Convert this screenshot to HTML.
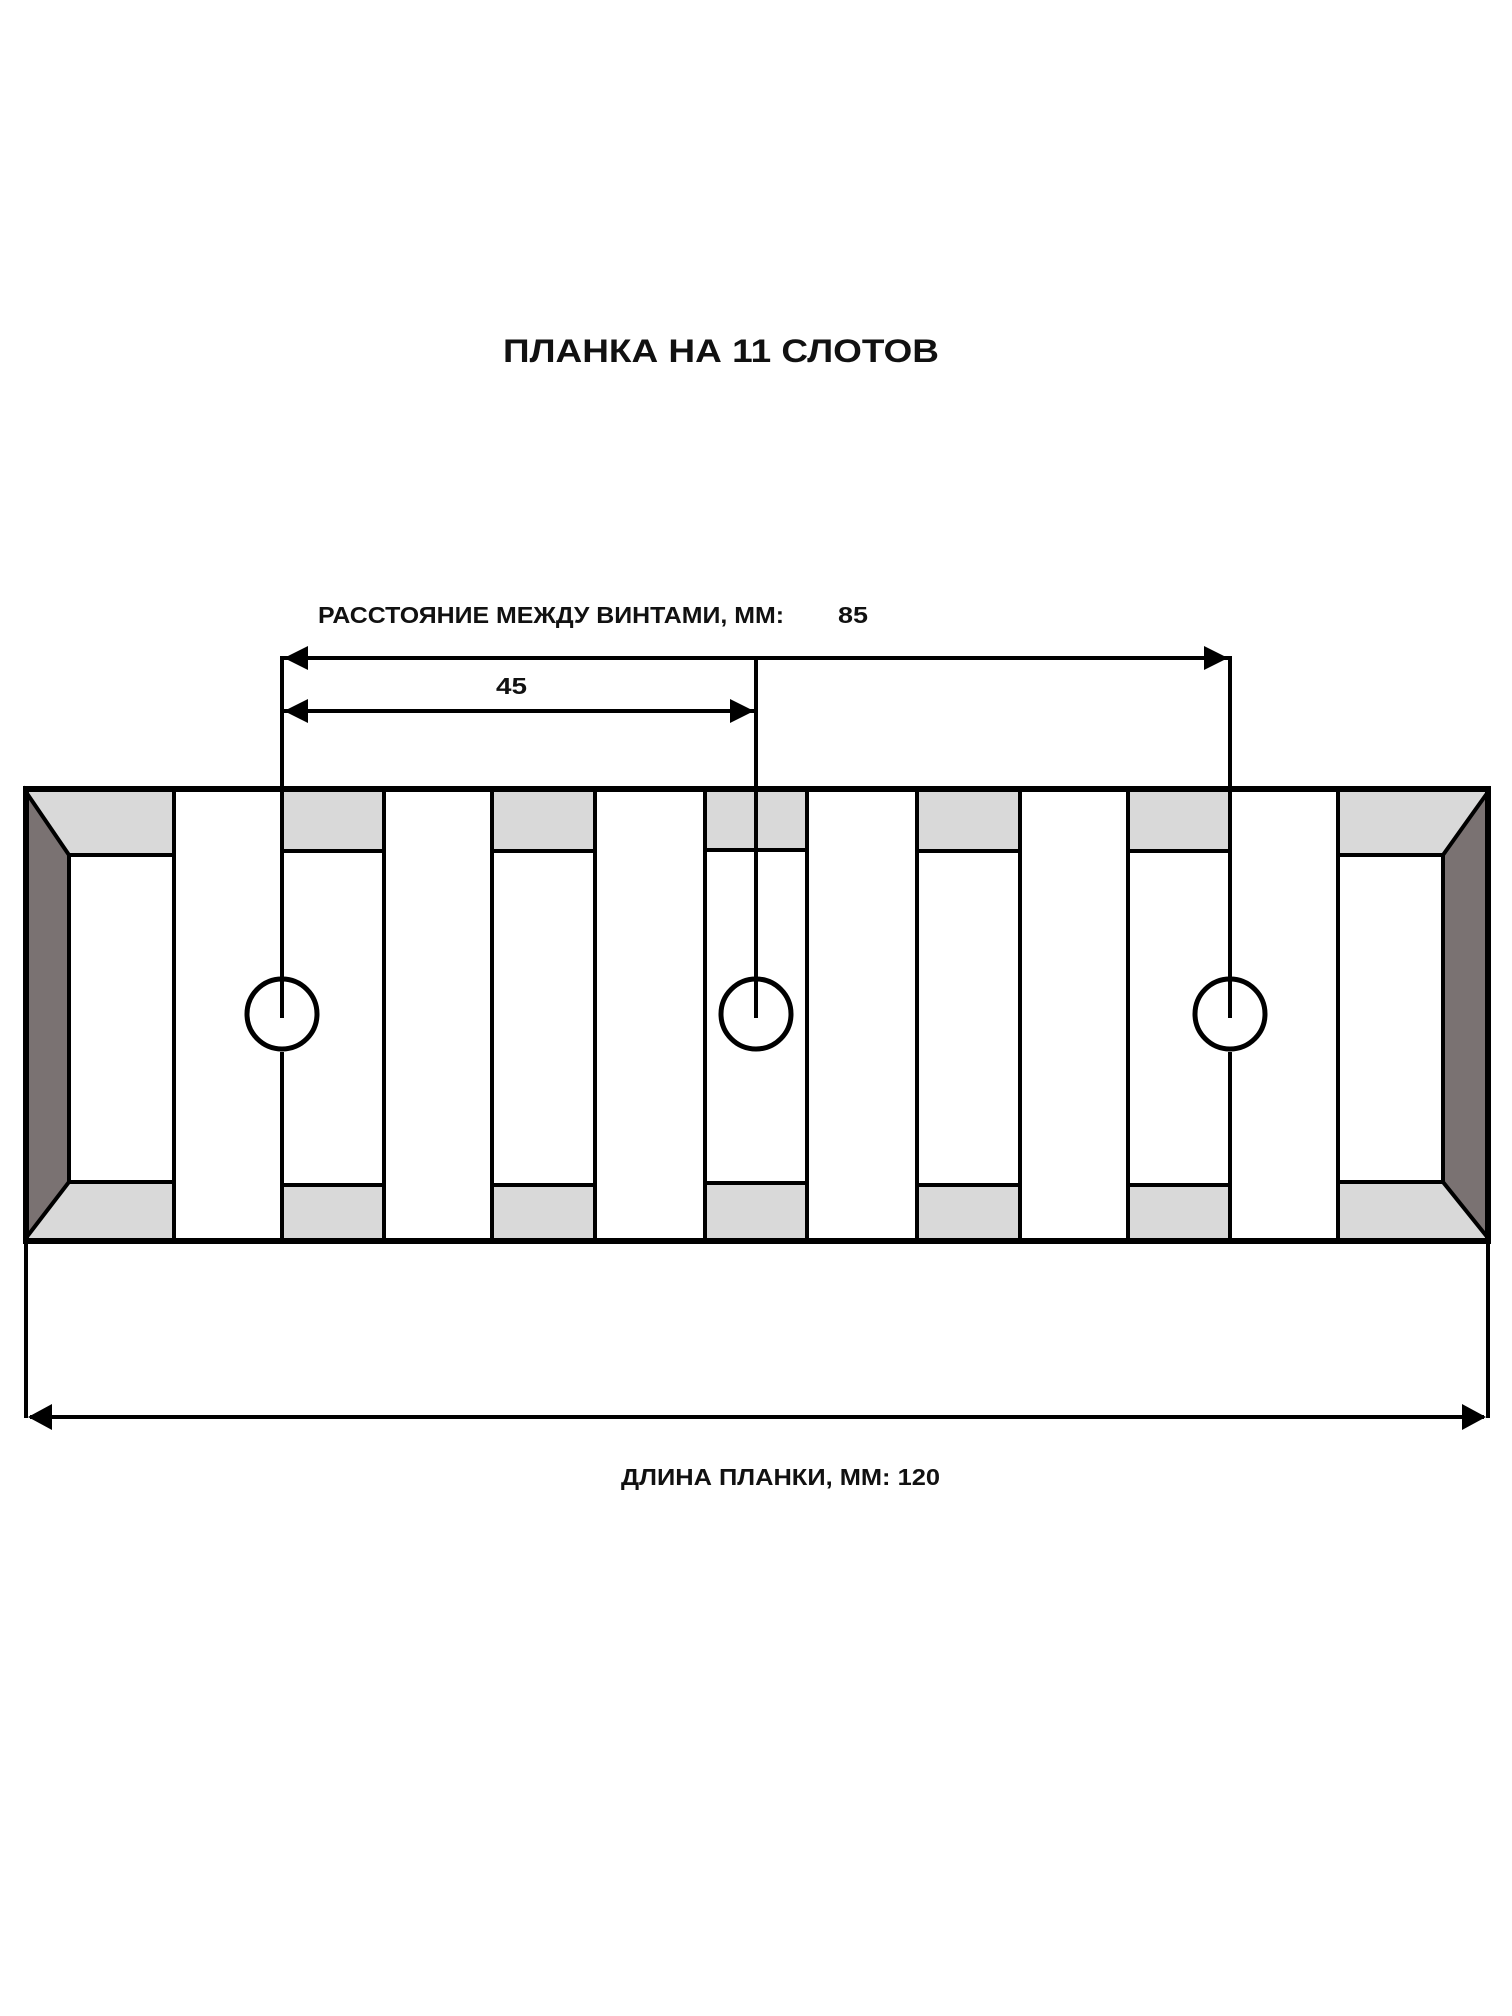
<!DOCTYPE html>
<html><head><meta charset="utf-8"><style>
html,body{margin:0;padding:0;background:#fff;}
svg{display:block;}
text{font-family:"Liberation Sans",sans-serif;font-weight:bold;fill:#111;}
</style></head><body>
<svg width="1512" height="2016" viewBox="0 0 1512 2016" xmlns="http://www.w3.org/2000/svg">
<text x="503" y="362" font-size="32" textLength="436" lengthAdjust="spacingAndGlyphs">ПЛАНКА НА 11 СЛОТОВ</text>
<text x="318" y="623" font-size="23" textLength="466" lengthAdjust="spacingAndGlyphs">РАССТОЯНИЕ МЕЖДУ ВИНТАМИ, ММ:</text>
<text x="838" y="623" font-size="23" textLength="30" lengthAdjust="spacingAndGlyphs">85</text>
<text x="496" y="694" font-size="23" textLength="31" lengthAdjust="spacingAndGlyphs">45</text>
<text x="621" y="1485" font-size="23" textLength="319" lengthAdjust="spacingAndGlyphs">ДЛИНА ПЛАНКИ, ММ: 120</text>

<!-- gray fills -->
<g fill="#d9d9d9">
<polygon points="26,792 174,792 174,855 69,855"/>
<polygon points="26,1238 174,1238 174,1182 69,1182"/>
<polygon points="1488,792 1338,792 1338,855 1443,855"/>
<polygon points="1488,1238 1338,1238 1338,1182 1443,1182"/>
<rect x="282" y="792" width="102" height="58"/><rect x="282" y="1185" width="102" height="53"/>
<rect x="492" y="792" width="103" height="58"/><rect x="492" y="1185" width="103" height="53"/>
<rect x="705" y="792" width="102" height="58"/><rect x="705" y="1183" width="102" height="55"/>
<rect x="917" y="792" width="103" height="58"/><rect x="917" y="1185" width="103" height="53"/>
<rect x="1128" y="792" width="102" height="58"/><rect x="1128" y="1185" width="102" height="53"/>
</g>
<g fill="#7a7272" stroke="#000" stroke-width="4">
<polygon points="26,792 69,855 69,1182 26,1238"/>
<polygon points="1488,792 1443,855 1443,1182 1488,1238"/>
</g>
<g stroke="#000" stroke-width="4" fill="none">
<line x1="69" y1="855" x2="174" y2="855"/><line x1="69" y1="1182" x2="174" y2="1182"/>
<line x1="1338" y1="855" x2="1443" y2="855"/><line x1="1338" y1="1182" x2="1443" y2="1182"/>
<line x1="174" y1="789" x2="174" y2="1241"/>
<line x1="282" y1="789" x2="282" y2="978"/><line x1="282" y1="1052" x2="282" y2="1241"/>
<line x1="384" y1="789" x2="384" y2="1241"/>
<line x1="492" y1="789" x2="492" y2="1241"/>
<line x1="595" y1="789" x2="595" y2="1241"/>
<line x1="705" y1="789" x2="705" y2="1241"/>
<line x1="807" y1="789" x2="807" y2="1241"/>
<line x1="917" y1="789" x2="917" y2="1241"/>
<line x1="1020" y1="789" x2="1020" y2="1241"/>
<line x1="1128" y1="789" x2="1128" y2="1241"/>
<line x1="1230" y1="789" x2="1230" y2="978"/><line x1="1230" y1="1052" x2="1230" y2="1241"/>
<line x1="1338" y1="789" x2="1338" y2="1241"/>
<line x1="282" y1="851" x2="384" y2="851"/><line x1="282" y1="1185" x2="384" y2="1185"/>
<line x1="492" y1="851" x2="595" y2="851"/><line x1="492" y1="1185" x2="595" y2="1185"/>
<line x1="705" y1="850" x2="807" y2="850"/><line x1="705" y1="1183" x2="807" y2="1183"/>
<line x1="917" y1="851" x2="1020" y2="851"/><line x1="917" y1="1185" x2="1020" y2="1185"/>
<line x1="1128" y1="851" x2="1230" y2="851"/><line x1="1128" y1="1185" x2="1230" y2="1185"/>
</g>
<rect x="26" y="789" width="1462" height="452" fill="none" stroke="#000" stroke-width="6"/>
<!-- screws -->
<g stroke="#000" stroke-width="5" fill="none">
<circle cx="282" cy="1014" r="35"/><circle cx="756" cy="1014" r="35"/><circle cx="1230" cy="1014" r="35"/>
</g>
<g stroke="#000" stroke-width="4">
<line x1="282" y1="656" x2="282" y="0" y2="1018"/>
<line x1="756" y1="658" x2="756" y2="1018"/>
<line x1="1230" y1="656" x2="1230" y2="1018"/>
<line x1="282" y1="658" x2="1230" y2="658"/>
<line x1="282" y1="711" x2="756" y2="711"/>
<line x1="26" y1="1241" x2="26" y2="1418"/>
<line x1="1488" y1="1241" x2="1488" y2="1418"/>
<line x1="30" y1="1417" x2="1484" y2="1417"/>
</g>
<g fill="#000">
<polygon points="284,658 308,646 308,670"/>
<polygon points="1228,658 1204,646 1204,670"/>
<polygon points="284,711 308,699 308,723"/>
<polygon points="754,711 730,699 730,723"/>
<polygon points="28,1417 52,1404 52,1430"/>
<polygon points="1486,1417 1462,1404 1462,1430"/>
</g>
</svg>
</body></html>
